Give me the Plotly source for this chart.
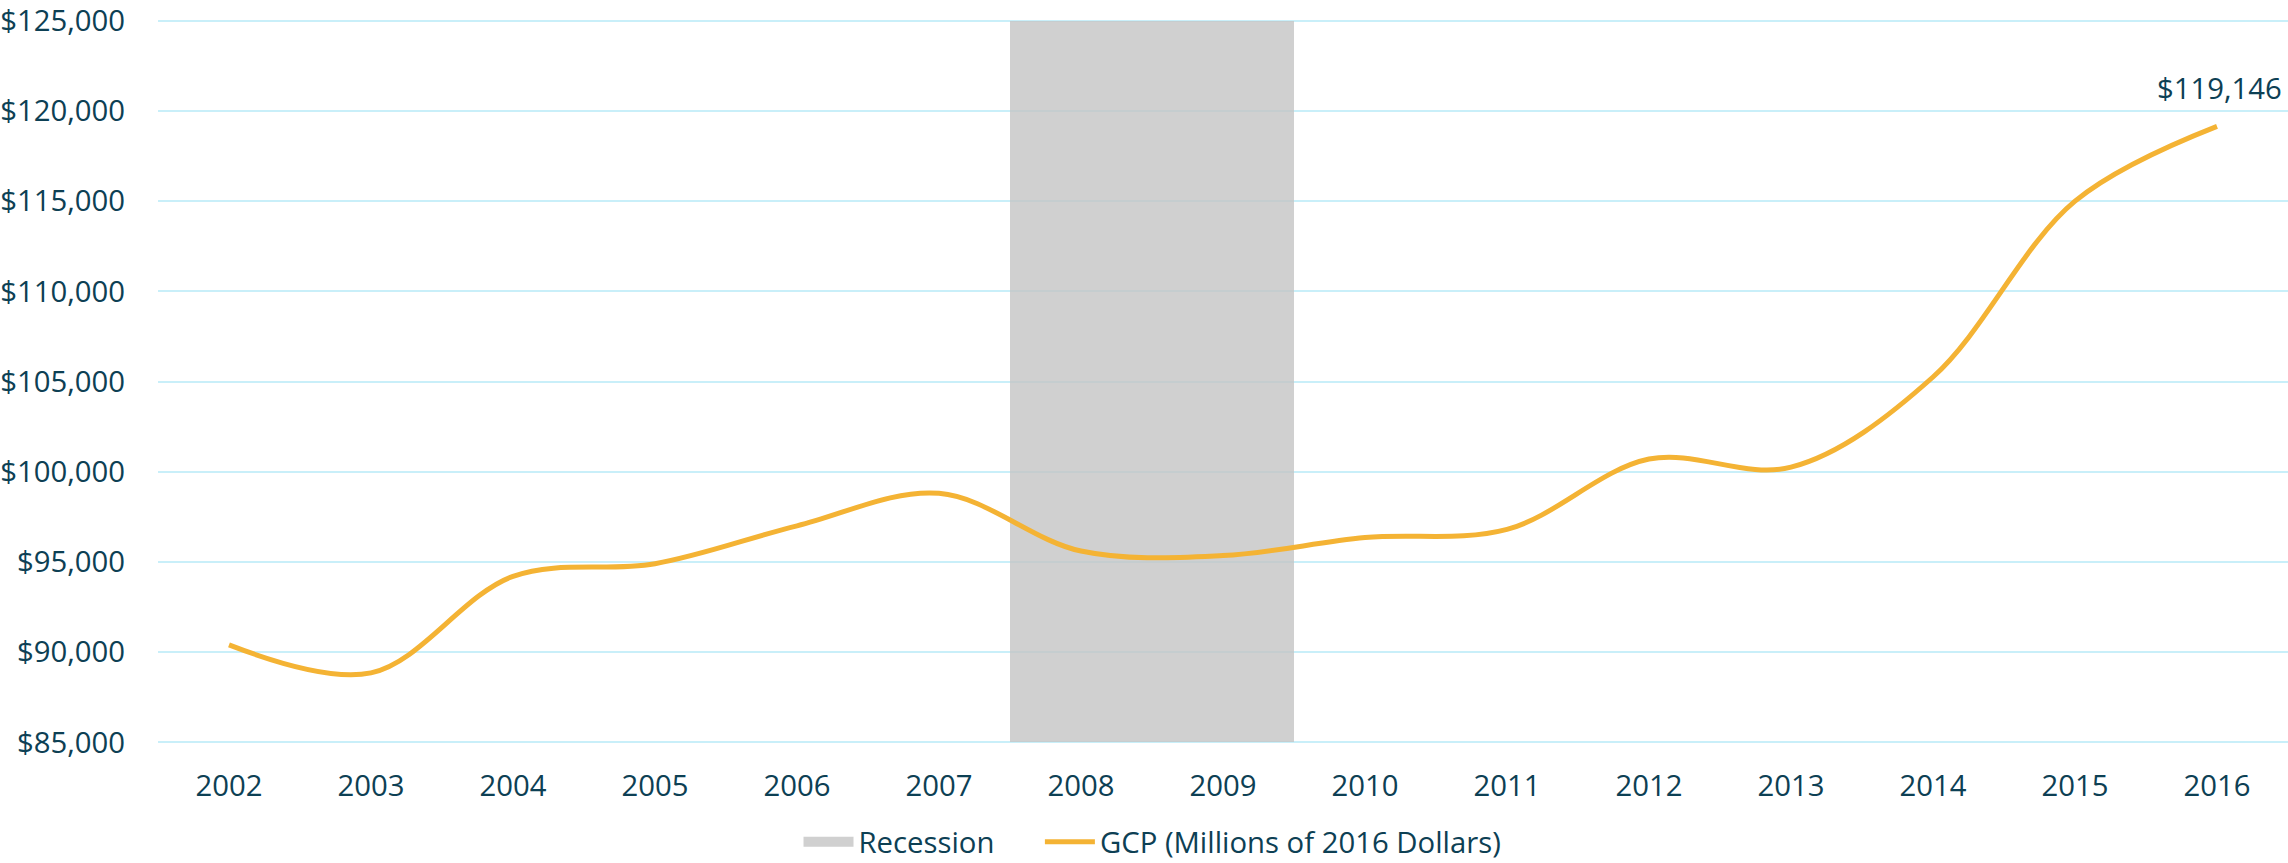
import plotly.graph_objects as go

years = ["2002", "2003", "2004", "2005", "2006", "2007", "2008", "2009",
         "2010", "2011", "2012", "2013", "2014", "2015", "2016"]
gcp = [90400, 88850, 94200, 94900, 97000, 98800, 95600, 95350,
       96350, 96800, 100700, 100250, 105250, 115000, 119146]
recession_years = ["2008", "2009"]
y_min, y_max, y_step = 85000, 125000, 5000

TEXT = "#0d4054"
FONT = "Open Sans"
FS = 29.3
GRAY = "rgba(196,196,196,0.8)"

fig = go.Figure()
fig.add_trace(go.Bar(
    x=recession_years,
    y=[y_max - y_min] * len(recession_years),
    base=[y_min] * len(recession_years),
    name="Recession", legendgroup="rec", showlegend=False,
    marker=dict(color=GRAY, line=dict(width=0)),
    hoverinfo="skip",
))
# legend swatch for the recession band (wide grey block, no marks drawn)
fig.add_trace(go.Scatter(
    x=[None], y=[None], mode="lines", name="Recession", legendgroup="rec",
    line=dict(color=GRAY, width=18), legend="legend",
))
fig.add_trace(go.Scatter(
    x=years, y=gcp, mode="lines",
    name="GCP (Millions of 2016 Dollars)", legend="legend2",
    line=dict(color="#f4b334", width=5, shape="spline", smoothing=1),
))

fig.add_annotation(
    x=len(years) - 1, y=gcp[-1], text=f"${gcp[-1]:,}",
    showarrow=False, xanchor="right", yanchor="middle",
    xshift=67, yshift=38,
    font=dict(family=FONT, size=FS, color=TEXT),
)

legend_common = dict(
    orientation="h", xref="container", yref="container",
    xanchor="left", y=0.024, yanchor="middle",
    font=dict(family=FONT, size=FS, color=TEXT),
    itemwidth=50,
)

pad = 150
fig.update_layout(
    width=2288, height=863,
    margin=dict(l=155, r=0, t=17.3, b=118.3),
    paper_bgcolor="white", plot_bgcolor="white",
    bargap=0,
    font=dict(family=FONT, size=FS, color=TEXT),
    showlegend=True,
    legend=dict(x=0.349, **legend_common),
    legend2=dict(x=0.4545, **legend_common),
    xaxis=dict(
        type="category", categoryorder="array", categoryarray=years,
        range=[-0.5, len(years) - 0.5],
        showgrid=False, showline=False, zeroline=False,
        ticks="outside", ticklen=15, tickcolor="rgba(0,0,0,0)",
        tickfont=dict(family=FONT, size=FS, color=TEXT),
    ),
    yaxis=dict(
        range=[y_min - pad, y_max + pad], dtick=y_step, tick0=y_min,
        tickprefix="$", tickformat=",",
        showgrid=True, gridcolor="#c9eff9", gridwidth=2,
        zeroline=False, showline=False,
        ticks="outside", ticklen=26, tickcolor="rgba(0,0,0,0)",
        ticklabeloverflow="allow",
        tickfont=dict(family=FONT, size=FS, color=TEXT),
    ),
)

fig.write_html("out.html", config={"displayModeBar": False},
               post_script="document.body.style.margin='0';")
